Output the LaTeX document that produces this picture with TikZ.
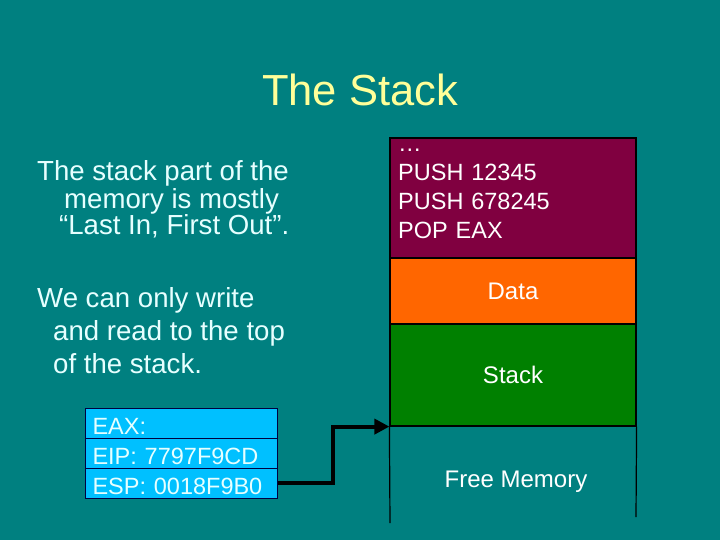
\documentclass[tikz,border=0pt]{standalone}
\usepackage{fontspec}
\setmainfont{Liberation Sans}
\usetikzlibrary{arrows.meta}
\definecolor{bgteal}{RGB}{0,128,128}
\definecolor{titleyellow}{RGB}{255,255,153}
\definecolor{codepurple}{RGB}{128,0,64}
\definecolor{dataorange}{RGB}{255,102,0}
\definecolor{stackgreen}{RGB}{0,128,0}
\definecolor{regblue}{RGB}{0,192,255}
\definecolor{paletext}{RGB}{230,255,255}
\definecolor{regborder}{RGB}{0,0,64}
\begin{document}
\begin{tikzpicture}[x=1pt,y=-1pt,
  memblock/.style={draw=black,line width=1.2pt,rectangle,minimum width=246pt,inner sep=0pt,
    text=white,font=\fontsize{24}{29}\selectfont},
  regbox/.style={draw=regborder,line width=1pt,fill=regblue,rectangle,minimum width=192pt,
    minimum height=30pt,inner sep=0pt,text height=22pt,text depth=0pt,text=paletext,
    font=\fontsize{23.5}{29}\selectfont,text width=177pt,align=left},
  bodytext/.style={anchor=base west,inner sep=0pt,text=paletext,font=\fontsize{27.6}{33}\selectfont},
  memline/.style={line width=1.2pt,draw=black}]
\fill[bgteal] (0,0) rectangle (720,540);
\useasboundingbox (0,0) rectangle (720,540);

\node[anchor=base,inner sep=0pt,text=titleyellow,font=\fontsize{43.5}{50}\selectfont] (title) at (360,106) {The Stack};

% left text
\node[bodytext] (t1) at (37,181) {The stack part of the};
\node[bodytext] (t2) at (64,208) {memory is mostly};
\node[bodytext] (t3) at (59,235) {“Last In, First Out”.};
\node[bodytext] (t4) at (37,307) {We can only write};
\node[bodytext] (t5) at (53,340) {and read to the top};
\node[bodytext] (t6) at (53,373) {of the stack.};

% memory column
\node[memblock,fill=codepurple,minimum height=120pt] (code) at (513,198) {};
\node[anchor=base west,inner sep=0pt,text width=230pt,align=left,text=white,
  font=\fontsize{23.5}{28.7}\selectfont] (codetext) at (398,152)
  {…\\PUSH 12345\\PUSH 678245\\POP EAX};
\node[memblock,fill=dataorange,minimum height=66pt] (data) at (513,291) {Data};
\node[memblock,fill=stackgreen,minimum height=102pt] (stack) at (513,375) {Stack};
\coordinate (freeL) at (390,523);
\coordinate (freeR) at (636,517);
\draw[memline] (stack.south west) -- (freeL);
\draw[memline] (stack.south east) -- (freeR);
\node[anchor=base,inner sep=0pt,text=white,font=\fontsize{24}{29}\selectfont] (free) at (516,487) {Free Memory};

% registers
\node[regbox] (eax) at (181,423) {EAX:};
\node[regbox] (eip) at (181,453) {EIP: 7797F9CD};
\node[regbox] (esp) at (181,483) {ESP: 0018F9B0};

% pointer arrow
\coordinate (bend) at (333,483);
\draw[line width=4pt,black,-{Triangle[length=15pt,width=15pt]}] (esp.east) -- (bend) |- (stack.south west);
\end{tikzpicture}
\end{document}
